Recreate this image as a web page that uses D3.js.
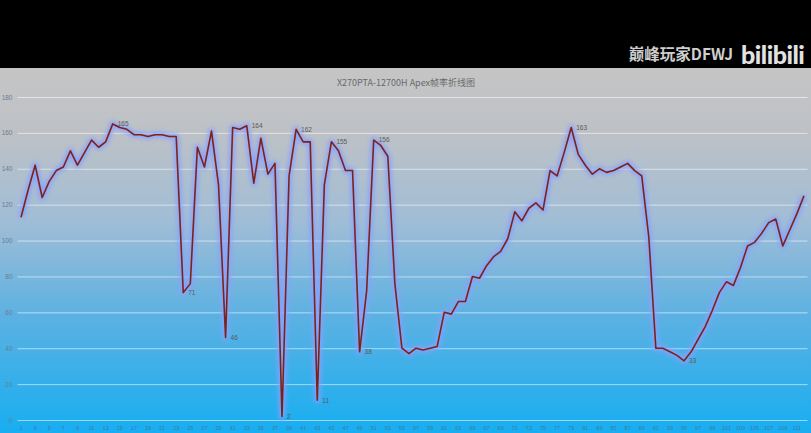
<!DOCTYPE html>
<html><head><meta charset="utf-8">
<script src="https://cdn.jsdelivr.net/npm/d3@7"></script>
<style>html,body{margin:0;padding:0;background:#000;overflow:hidden}svg{display:block}</style>
</head><body>
<script>
const title = "X270PTA-12700H Apex帧率折线图";
const watermark = "巅峰玩家DFWJ";
const logo = "bilibili";
const categories = d3.range(1, 113);
const fps = [113,128,142,124,133,139,141,150,142,149,156,152,155,165,163,162,159,159,158,159,159,158,158,71,
76,152,141,161,131,46,163,162,164,132,157,137,143,2,136,162,155,155,11,131,155,150,139,139,38,72,
156,153,147,76,40,37,40,39,40,41,60,59,66,66,80,79,86,91,94,101,116,111,118,121,117,139,136,149,163,148,
142,137,140,138,139,141,143,139,136,102,40,40,38,36,33,38,45,52,61,71,77,75,85,97,99,104,110,112,97,106,115,125];
const labeled = [14,24,30,33,38,40,43,45,49,51,79,95];
const yTicks = [0,20,40,60,80,100,120,140,160,180];

const W = 811, H = 433;
const svg = d3.select("body").append("svg").attr("width", W).attr("height", H);
const defs = svg.append("defs");
const grad = defs.append("linearGradient").attr("id","bg").attr("x1",0).attr("y1",0).attr("x2",0).attr("y2",1);
[["0%","#c5c5c5"],["18%","#bdc1c6"],["42%","#a0bdd6"],["68%","#5cb1e2"],["100%","#17aef1"]]
  .forEach(([o,c])=>grad.append("stop").attr("offset",o).attr("stop-color",c));
const glow = defs.append("filter").attr("id","glow").attr("x","-5%").attr("y","-5%").attr("width","110%").attr("height","110%");
glow.append("feGaussianBlur").attr("stdDeviation",2.2);

svg.append("rect").attr("width",W).attr("height",68).attr("fill","#000");
svg.append("rect").attr("y",68).attr("width",W).attr("height",H-68).attr("fill","url(#bg)");

svg.append("text").attr("x",733).attr("y",60).attr("text-anchor","end")
  .attr("font-family","Noto Sans CJK SC").attr("font-weight","bold").attr("font-size",15.5)
  .attr("fill","#cfcfcf").text(watermark);
svg.append("text").attr("x",741).attr("y",64)
  .attr("font-family","Lato, DejaVu Sans").attr("font-weight","900").attr("font-size",25)
  .attr("fill","#e2e2e2").attr("letter-spacing",-0.5).text(logo);

svg.append("text").attr("x",406).attr("y",86).attr("text-anchor","middle")
  .attr("font-family","Noto Sans CJK SC").attr("font-size",9).attr("fill","#6a6a6a").text(title);

const x = d3.scaleBand().domain(categories).range([17.5, 807.5]);
const cx = d => x(d) + x.bandwidth()/2;
const y = d3.scaleLinear().domain([0,180]).range([420, 97]);

const gy = svg.append("g").attr("transform","translate(17.5,0)")
  .call(d3.axisLeft(y).tickValues(yTicks).tickSize(-790).tickPadding(5));
gy.select(".domain").remove();
gy.selectAll(".tick line").attr("stroke","rgba(255,255,255,0.55)").attr("stroke-width",1);
gy.selectAll(".tick text").attr("font-family","Liberation Sans").attr("font-size",6.5).attr("fill","#6a7d92");

const gx = svg.append("g").attr("transform","translate(0,420)")
  .call(d3.axisBottom(x).tickValues(categories.filter(d=>d%2===1)).tickSize(0).tickPadding(6));
gx.select(".domain").remove();
gx.selectAll(".tick text").attr("font-family","Liberation Sans").attr("font-size",5.5).attr("fill","#3f7aa6");

const line = d3.line().x((d,i)=>cx(categories[i])).y(d=>y(d));
svg.append("path").datum(fps).attr("d",line).attr("fill","none")
  .attr("stroke","rgba(135,160,255,0.85)").attr("stroke-width",6).attr("stroke-linejoin","round")
  .attr("filter","url(#glow)");
svg.append("path").datum(fps).attr("d",line).attr("fill","none")
  .attr("stroke","#7e2219").attr("stroke-width",1.6).attr("stroke-linejoin","round");

svg.append("g").selectAll("text").data(labeled).join("text")
  .attr("x",d=>cx(d)+5).attr("y",d=>y(fps[d-1])).attr("dy","0.35em")
  .attr("font-family","Liberation Sans").attr("font-size",6.5).attr("fill","#5a5a5a")
  .text(d=>fps[d-1]);
</script>
</body></html>
